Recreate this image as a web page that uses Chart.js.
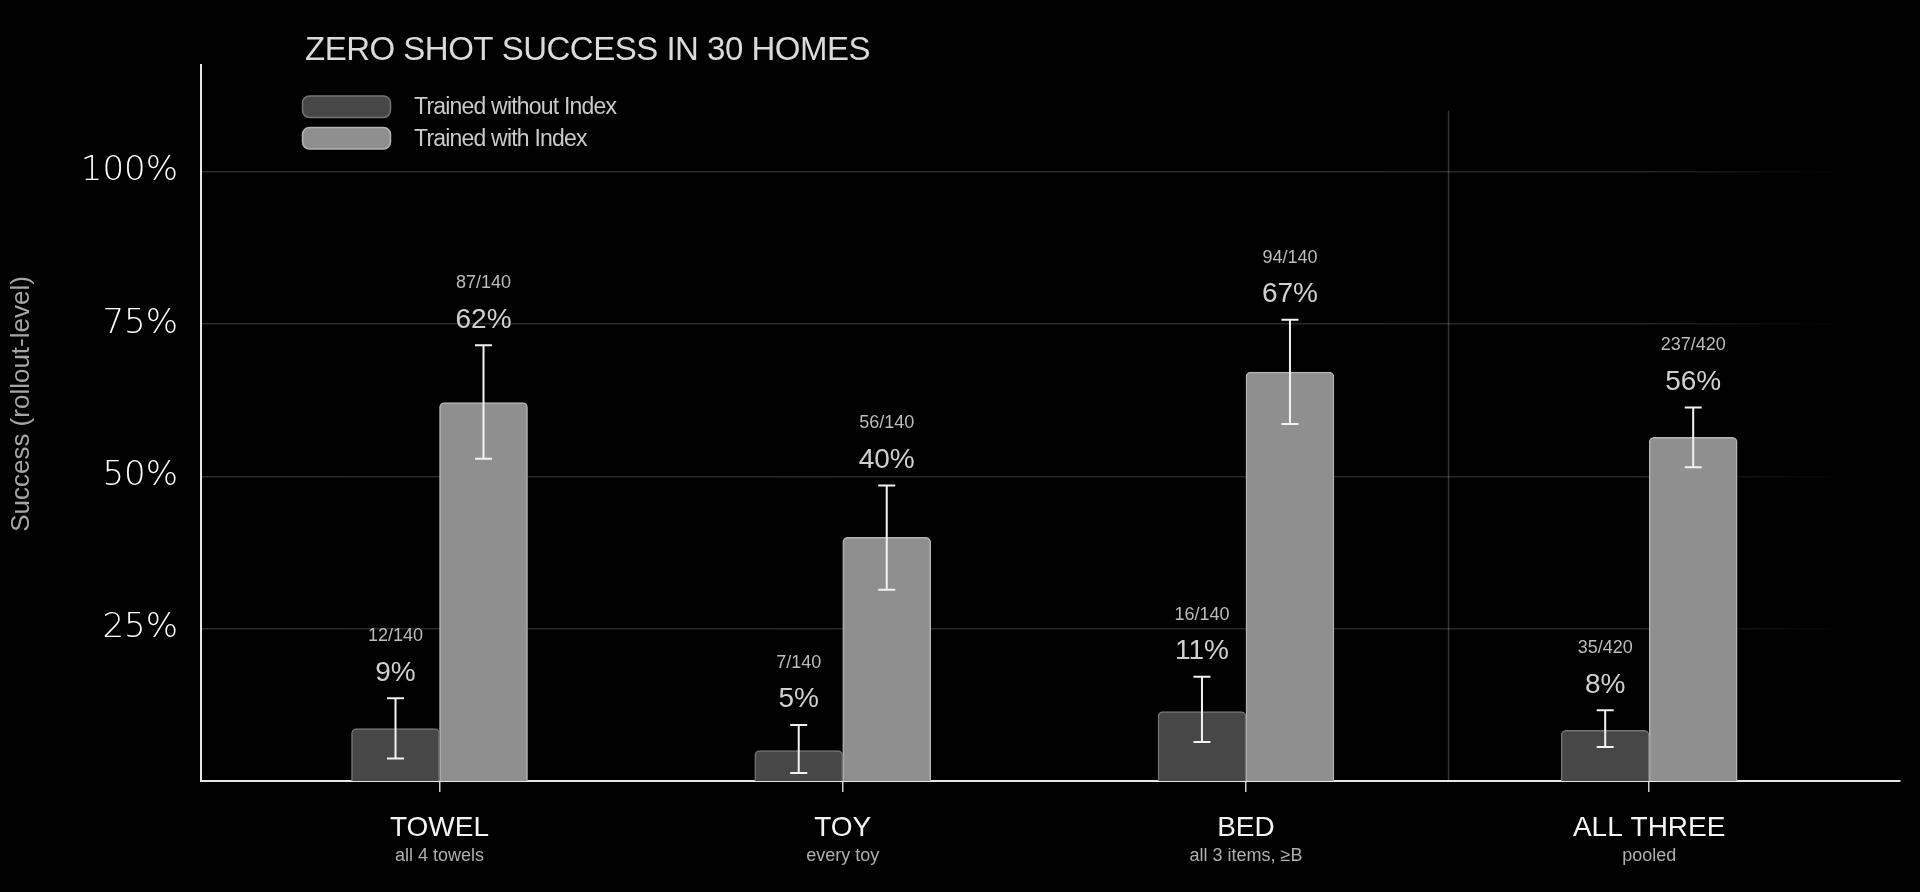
<!DOCTYPE html>
<html>
<head>
<meta charset="utf-8">
<title>Zero shot success in 30 homes</title>
<script src="https://cdn.jsdelivr.net/npm/chart.js@4.4.1/dist/chart.umd.min.js"></script>
<style>
  html, body { margin: 0; padding: 0; background: #000; }
  #wrap { position: relative; width: 1920px; height: 892px; }
</style>
</head>
<body>
<div id="wrap"><canvas id="successChart"></canvas></div>
<script>
// Chart data
const categories = ['TOWEL', 'TOY', 'BED', 'ALL THREE'];
const subLabels = ['all 4 towels', 'every toy', 'all 3 items, \u2265B', 'pooled'];

const withoutIndex = [8.6, 5.0, 11.4, 8.3];
const withIndex = [62.1, 40.0, 67.1, 56.4];

// error bar ends (percent)
const withoutLow = [3.7, 1.3, 6.4, 5.6];
const withoutHigh = [13.6, 9.2, 17.1, 11.6];
const withLow = [52.9, 31.4, 58.6, 51.5];
const withHigh = [71.5, 48.5, 75.7, 61.3];

const withoutCounts = ['12/140', '7/140', '16/140', '35/420'];
const withCounts = ['87/140', '56/140', '94/140', '237/420'];
const withoutPct = ['9%', '5%', '11%', '8%'];
const withPct = ['62%', '40%', '67%', '56%'];

const yTicks = [25, 50, 75, 100];
const seriesNames = ['Trained without Index', 'Trained with Index'];

const SANS = '"Liberation Sans", Arial, sans-serif';

// Faint grid lines that fade out towards the right edge
function gridColor(context) {
    const chart = context.chart;
    const area = chart.chartArea;
    if (!area) return 'rgba(255,255,255,0.17)';
    const g = chart.ctx.createLinearGradient(area.left, 0, area.right, 0);
    g.addColorStop(0, 'rgba(255,255,255,0.17)');
    g.addColorStop(0.84, 'rgba(255,255,255,0.15)');
    g.addColorStop(0.97, 'rgba(255,255,255,0)');
    g.addColorStop(1, 'rgba(255,255,255,0)');
    return g;
}

// Draws the extra bits: separator, error bars, value labels, title, legend, axis texts
const decorations = {
    id: 'decorations',
    beforeDatasetsDraw(chart) {
        const { ctx, scales: { x, y } } = chart;
        ctx.save();
        ctx.strokeStyle = 'rgba(255,255,255,0.2)';
        ctx.lineWidth = 1.5;
        const sx = Math.round(x.getPixelForValue(2.5)) + 0.5;
        ctx.beginPath();
        ctx.moveTo(sx, y.getPixelForValue(110));
        ctx.lineTo(sx, y.getPixelForValue(0));
        ctx.stroke();
        ctx.restore();
    },
    afterDatasetsDraw(chart) {
        const { ctx, scales: { y } } = chart;
        const lows = [withoutLow, withLow];
        const highs = [withoutHigh, withHigh];
        const pcts = [withoutPct, withPct];
        const counts = [withoutCounts, withCounts];

        ctx.save();
        chart.data.datasets.forEach((ds, d) => {
            const meta = chart.getDatasetMeta(d);
            meta.data.forEach((bar, i) => {
                const cx = bar.x;
                const top = y.getPixelForValue(highs[d][i]);
                const bottom = y.getPixelForValue(lows[d][i]);

                // error bar
                ctx.strokeStyle = '#f2f2f2';
                ctx.lineWidth = 2;
                ctx.beginPath();
                ctx.moveTo(cx, top);
                ctx.lineTo(cx, bottom);
                ctx.moveTo(cx - 8.5, top);
                ctx.lineTo(cx + 8.5, top);
                ctx.moveTo(cx - 8.5, bottom);
                ctx.lineTo(cx + 8.5, bottom);
                ctx.stroke();

                // labels above the error bar
                ctx.textAlign = 'center';
                ctx.textBaseline = 'alphabetic';
                ctx.fillStyle = '#d0d0d0';
                ctx.font = '28px ' + SANS;
                ctx.fillText(pcts[d][i], cx, top - 17.5);
                ctx.fillStyle = '#bcbcbc';
                ctx.font = '18px ' + SANS;
                ctx.fillText(counts[d][i], cx, top - 57);
            });
        });
        ctx.restore();
    },
    afterDraw(chart) {
        const { ctx, scales: { x, y } } = chart;
        ctx.save();

        // title
        ctx.letterSpacing = '-0.5px';
        ctx.fillStyle = '#dadada';
        ctx.font = '33px ' + SANS;
        ctx.textAlign = 'left';
        ctx.textBaseline = 'alphabetic';
        ctx.fillText('ZERO SHOT SUCCESS IN 30 HOMES', 305, 60);

        // legend
        const fills = chart.data.datasets.map(ds => ds.backgroundColor);
        const borders = chart.data.datasets.map(ds => ds.borderColor);
        ctx.letterSpacing = '-0.8px';
        ctx.font = '23px ' + SANS;
        seriesNames.forEach((name, k) => {
            const by = 96 + k * 31.5;
            ctx.beginPath();
            ctx.roundRect(302.5, by, 88, 21.5, 7);
            ctx.fillStyle = fills[k];
            ctx.fill();
            ctx.lineWidth = 1.5;
            ctx.strokeStyle = borders[k];
            ctx.stroke();
            ctx.fillStyle = '#cacaca';
            ctx.fillText(name, 414, by + 18.3);
        });
        ctx.letterSpacing = '0px';

        // category labels under the x axis
        const base = y.getPixelForValue(0);
        ctx.textAlign = 'center';
        categories.forEach((name, i) => {
            const cx = x.getPixelForValue(i);
            ctx.fillStyle = '#f4f4f4';
            ctx.font = '28px ' + SANS;
            ctx.fillText(name, cx, base + 55);
            ctx.fillStyle = '#b0b0b0';
            ctx.font = '18px ' + SANS;
            ctx.fillText(subLabels[i], cx, base + 80);
        });

        // y axis title
        ctx.translate(22, 404);
        ctx.rotate(-Math.PI / 2);
        ctx.fillStyle = '#a6a6a6';
        ctx.font = '26px ' + SANS;
        ctx.textBaseline = 'middle';
        ctx.fillText('Success (rollout-level)', 0, 0);

        ctx.restore();
    }
};

const ctx = document.getElementById('successChart');

window.successChart = new Chart(ctx, {
    type: 'bar',
    data: {
        datasets: [
            {
                label: seriesNames[0],
                data: withoutIndex.map((v, i) => ({ x: i, y: v })),
                backgroundColor: '#474747',
                borderColor: '#747474'
            },
            {
                label: seriesNames[1],
                data: withIndex.map((v, i) => ({ x: i, y: v })),
                backgroundColor: '#8f8f8f',
                borderColor: '#b4b4b4'
            }
        ]
    },
    options: {
        responsive: true,
        maintainAspectRatio: false,
        animation: false,
        devicePixelRatio: 1,
        layout: { padding: { top: 65, right: 20, bottom: 0, left: 0 } },
        datasets: {
            bar: {
                barThickness: 88,
                borderWidth: 1.5,
                borderSkipped: 'bottom',
                borderRadius: { topLeft: 5, topRight: 5 }
            }
        },
        plugins: {
            legend: { display: false },
            title: { display: false },
            tooltip: { enabled: false }
        },
        scales: {
            x: {
                type: 'linear',
                offset: false,
                min: -0.5915,
                max: 3.622,
                afterBuildTicks: scale => {
                    scale.ticks = categories.map((_, i) => ({ value: i }));
                },
                afterFit: scale => { scale.height = 111; },
                ticks: { display: false },
                grid: {
                    offset: false,
                    drawOnChartArea: false,
                    drawTicks: true,
                    tickLength: 11,
                    color: '#cfcfcf',
                    lineWidth: 1.5
                },
                border: { color: '#e6e6e6', width: 2 }
            },
            y: {
                min: 0,
                max: 117.5,
                afterBuildTicks: scale => {
                    scale.ticks = yTicks.map(v => ({ value: v }));
                },
                afterFit: scale => { scale.width = 201; },
                ticks: {
                    padding: 23,
                    color: '#ffffff',
                    font: { family: '"DejaVu Sans", sans-serif', size: 34, weight: 300 },
                    callback: v => v + '%'
                },
                grid: {
                    color: gridColor,
                    lineWidth: 1.5,
                    drawTicks: false
                },
                border: { color: '#e6e6e6', width: 2 }
            }
        }
    },
    plugins: [decorations]
});
</script>
</body>
</html>
